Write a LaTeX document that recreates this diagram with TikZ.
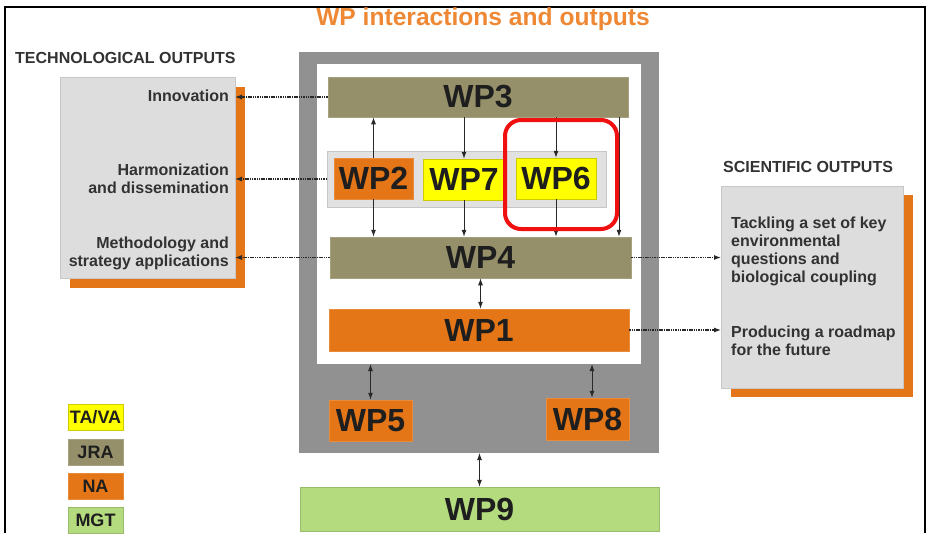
\documentclass[tikz,border=0pt]{standalone}
\usepackage{fontspec}
\setmainfont{Liberation Sans}
\usetikzlibrary{arrows.meta,calc}
\definecolor{jra}{RGB}{150,144,106}
\definecolor{na}{RGB}{228,118,24}
\definecolor{tava}{RGB}{255,255,0}
\definecolor{mgt}{RGB}{181,219,127}
\definecolor{biggray}{RGB}{145,145,145}
\definecolor{ltgray}{RGB}{221,221,221}
\definecolor{stripgray}{RGB}{225,225,225}
\definecolor{titleor}{RGB}{238,136,52}
\definecolor{txt}{RGB}{30,30,30}
\definecolor{lab}{RGB}{50,50,50}
\definecolor{conn}{RGB}{40,40,40}
\definecolor{hlred}{RGB}{240,16,16}
\begin{document}
\begin{tikzpicture}[x=1pt,y=-1pt,
  wp/.style={font=\fontsize{32}{36}\selectfont\bfseries, text=txt, inner sep=0pt, line width=0.5pt},
  plain/.style={inner sep=0pt, outer sep=0pt},
  labtxt/.style={font=\fontsize{16}{17.6}\selectfont\bfseries, text=lab, inner sep=0pt},
  head/.style={font=\fontsize{16}{18}\selectfont\bfseries, text=lab, inner sep=0pt},
  leg/.style={font=\fontsize{18}{20}\selectfont\bfseries, text=txt, inner sep=0pt, minimum width=55pt, minimum height=26pt, line width=0.5pt},
  arr/.style={draw=conn, line width=0.9pt, -{Latex[length=7pt,width=5pt]}},
  darr/.style={draw=conn, line width=0.9pt, {Latex[length=7pt,width=5pt]}-{Latex[length=7pt,width=5pt]}},
  dotarr/.style={draw=conn, line width=1.1pt, dash pattern=on 1.5pt off 0.8pt, -{Latex[length=7pt,width=5pt]}}
]
\useasboundingbox (0,0) rectangle (932,533);
\fill[white] (0,0) rectangle (932,533);
% frame
\draw[line width=1.3pt, black] (5,533) -- (5,7) -- (925,7) -- (925,533);
% title
\node[inner sep=0pt, anchor=base, font=\fontsize{24.6}{28}\selectfont\bfseries, text=titleor] (title) at (483,25.5) {WP interactions and outputs};
% headings
\node[head, anchor=base west] (techhead) at (15,63.5) {TECHNOLOGICAL OUTPUTS};
\node[head, anchor=base west] (scihead) at (723,172) {SCIENTIFIC OUTPUTS};
% left output box
\node[plain, fill=na, minimum width=175pt, minimum height=201pt] (lshadow) at (157.5,187.5) {};
\node[plain, fill=ltgray, draw=ltgray!90!black, line width=0.4pt, minimum width=175pt, minimum height=201pt] (lbox) at (147.5,177.5) {};
\node[labtxt, anchor=base east] (innov) at (229,101.5) {Innovation};
\node[labtxt, anchor=base east, align=right] (harm) at (229,193.5) {Harmonization\\and dissemination};
\node[labtxt, anchor=base east, align=right] (meth) at (229,266) {Methodology and\\strategy applications};
% right output box
\node[plain, fill=na, minimum width=182pt, minimum height=202pt] (rshadow) at (822,296) {};
\node[plain, fill=ltgray, draw=ltgray!90!black, line width=0.4pt, minimum width=182pt, minimum height=202pt] (rbox) at (812,287) {};
\node[labtxt, anchor=base west, align=left, font=\fontsize{16}{18}\selectfont\bfseries] (tack) at (731,282.5) {Tackling a set of key\\environmental\\questions and\\biological coupling};
\node[labtxt, anchor=base west, align=left, font=\fontsize{16}{18}\selectfont\bfseries] (road) at (731,355) {Producing a roadmap\\for the future};
% WP container
\node[plain, fill=biggray, minimum width=360pt, minimum height=401pt] (big) at (479,252.5) {};
\node[plain, fill=white, minimum width=324pt, minimum height=300pt] (inner) at (479,214) {};
\node[wp, fill=jra, draw=jra!85!white, minimum width=300pt, minimum height=40pt] (WP3) at (478,97) {WP3};
\node[plain, fill=stripgray, draw=stripgray!88!black, line width=0.6pt, minimum width=279pt, minimum height=56pt] (strip) at (466.5,179) {};
\node[wp, fill=na, draw=na!85!white, minimum width=79pt, minimum height=41pt] (WP2) at (373.5,178.5) {WP2};
\node[wp, fill=tava, draw=tava!80!black, minimum width=82pt, minimum height=41pt] (WP7) at (464,179.5) {WP7};
\node[wp, fill=tava, draw=tava!80!black, minimum width=80pt, minimum height=41pt] (WP6) at (556,178.5) {WP6};
\node[wp, fill=jra, draw=jra!85!white, minimum width=301pt, minimum height=41pt] (WP4) at (480.5,257.5) {WP4};
\node[wp, fill=na, draw=na!85!white, minimum width=300pt, minimum height=42pt] (WP1) at (479,330) {WP1};
\node[wp, fill=na, draw=na!85!white, minimum width=83pt, minimum height=41pt] (WP5) at (370.5,420.5) {WP5};
\node[wp, fill=na, draw=na!85!white, minimum width=83pt, minimum height=42pt] (WP8) at (587.5,419) {WP8};
\node[wp, fill=mgt, draw=mgt!85!black, minimum width=359pt, minimum height=44pt] (WP9) at (479.5,509) {WP9};
% legend
\node[leg, fill=tava, draw=tava!80!black] (lgta) at (95.5,417) {TA/VA};
\node[leg, fill=jra, draw=jra!85!white] (lgjra) at (95.5,452) {JRA};
\node[leg, fill=na, draw=na!85!white] (lgna) at (95.5,486) {NA};
\node[leg, fill=mgt, draw=mgt!85!black] (lgmgt) at (95.5,520) {MGT};
% coordinates for off-centre connectors
\coordinate (xr) at (619,0);
\coordinate (x8) at (592,0);
% vertical connectors
\draw[arr] (WP2.north) -- (WP2.north |- WP3.south);
\draw[arr] (WP2.south) -- (WP2.south |- WP4.north);
\draw[arr] (WP7.north |- WP3.south) -- (WP7.north);
\draw[arr] (WP7.south) -- (WP7.south |- WP4.north);
\draw[arr] (WP6.north |- WP3.south) -- (WP6.north);
\draw[arr] (WP6.south) -- (WP6.south |- WP4.north);
\draw[arr] (WP3.south -| xr) -- (WP4.north -| xr);
\draw[darr] (WP4.south) -- (WP4.south |- WP1.north);
\draw[darr] (WP5.north |- inner.south) -- (WP5.north);
\draw[darr] (inner.south -| x8) -- (WP8.north -| x8);
\draw[darr] (WP9.north |- big.south) -- (WP9.north);
% dotted output connectors
\draw[dotarr] (WP3.west) -- (lbox.east |- WP3.west);
\draw[dotarr] (strip.west) -- (lbox.east |- strip.west);
\draw[dotarr] (WP4.west) -- (lbox.east |- WP4.west);
\draw[dotarr] (WP4.east) -- (rbox.west |- WP4.east);
\draw[dotarr] (WP1.east) -- (rbox.west |- WP1.east);
% highlight
\node[plain, draw=hlred, line width=4pt, rounded corners=16pt, minimum width=112pt, minimum height=109pt] (hl) at (561,174.5) {};
\end{tikzpicture}
\end{document}
